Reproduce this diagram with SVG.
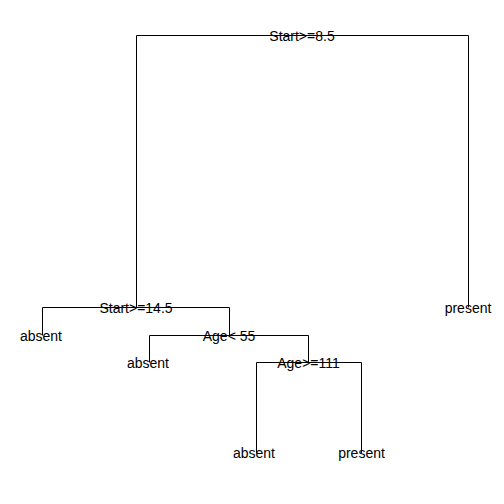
<svg xmlns="http://www.w3.org/2000/svg" width="504" height="504" viewBox="0 0 504 504">
<style>
.c{fill:none;stroke:#000;stroke-width:1}
text{font-family:"Liberation Sans",Arial,sans-serif;font-size:14px;fill:#000;text-anchor:middle}
</style>
<rect width="504" height="504" fill="#fff"/>
<g id="connectors">
<path class="c" d="M136.5 307.5V35.5H468.5V307.5"/>
<path class="c" d="M42.5 335.5V307.5H229.5V335.5"/>
<path class="c" d="M149.5 362.5V335.5H308.5V362.5"/>
<path class="c" d="M256.5 453V362.5H361.5V453"/>
</g>
<g id="n1"><text x="302" y="40.5">Start&gt;=8.5</text></g>
<g id="n2"><text x="136" y="312.5">Start&gt;=14.5</text></g>
<g id="n3"><text x="468" y="312.5">present</text></g>
<g id="n4"><text x="41" y="340.5">absent</text></g>
<g id="n5"><text x="229" y="340.5">Age&lt; 55</text></g>
<g id="n6"><text x="148" y="367.5">absent</text></g>
<g id="n7"><text x="308.5" y="367.5">Age&gt;=111</text></g>
<g id="n8"><text x="254" y="458">absent</text></g>
<g id="n9"><text x="361.5" y="458">present</text></g>
</svg>
